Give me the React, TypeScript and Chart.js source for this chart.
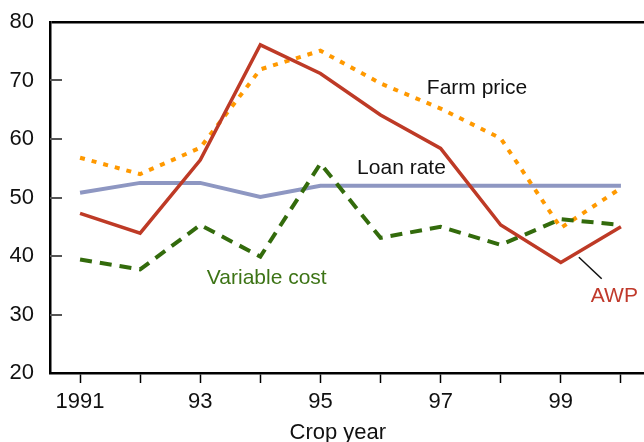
import React, { useEffect, useRef } from "react";
import { Chart, registerables } from "chart.js";

Chart.register(...registerables);

// ---- data ----
const years = [1991, 1992, 1993, 1994, 1995, 1996, 1997, 1998, 1999, 2000];
const farmPrice = [56.8, 54.0, 58.5, 71.9, 75.1, 69.5, 65.2, 60.1, 44.8, 51.6];
const loanRate = [50.8, 52.5, 52.5, 50.1, 52.0, 52.0, 52.0, 52.0, 52.0, 52.0];
const awp = [47.3, 43.9, 56.4, 76.1, 71.2, 64.1, 58.4, 45.3, 38.9, 45.0];
const variableCost = [39.4, 37.7, 45.3, 39.9, 55.8, 43.1, 45.0, 41.9, 46.3, 45.3];

const yTicks = [20, 30, 40, 50, 60, 70, 80];
const xTickLabel = (y: number) => (y === 1991 ? "1991" : y % 2 === 1 ? String(y).slice(2) : "");

// annotation anchors in data units
const labelFarm = { x: 1996.77, y: 68.7, text: "Farm price" };
const labelLoan = { x: 1995.61, y: 55.0, text: "Loan rate" };
const labelVar = { x: 1993.11, y: 36.2, text: "Variable cost" };
const labelAwp = { x: 1999.5, y: 33.2, text: "AWP" };
const awpLeader = [
  { x: 1999.3, y: 39.8 },
  { x: 1999.68, y: 36.1 },
];
const axisTitle = { x: 1995.29, text: "Crop year" };

const COLORS = {
  farm: "#FF9900",
  loan: "#8E97C2",
  awp: "#BE3A26",
  varc: "#336B0C",
};

const FONT = "'Liberation Sans', Arial, Helvetica, sans-serif";

const toXY = (vals: number[]) => years.map((yr, i) => ({ x: yr, y: vals[i] }));

const overlayPlugin = {
  id: "overlay",
  afterDraw(chart: any) {
    const ctx = chart.ctx;
    const xs = chart.scales.x;
    const ys = chart.scales.y;
    const left = chart.chartArea.left;
    ctx.save();
    // inward y tick marks
    ctx.strokeStyle = "#555555";
    ctx.lineWidth = 2;
    yTicks.forEach((v) => {
      if (v === 20 || v === 80) return;
      const py = Math.round(ys.getPixelForValue(v));
      ctx.beginPath();
      ctx.moveTo(left, py);
      ctx.lineTo(left + 12, py);
      ctx.stroke();
    });
    // text annotations
    ctx.font = `21px ${FONT}`;
    ctx.textBaseline = "middle";
    ctx.textAlign = "left";
    const put = (l: any, color: string) => {
      ctx.fillStyle = color;
      ctx.fillText(l.text, xs.getPixelForValue(l.x), ys.getPixelForValue(l.y));
    };
    put(labelFarm, "#111111");
    put(labelLoan, "#111111");
    put(labelVar, "#3D7416");
    put(labelAwp, "#C0392B");
    // leader line
    ctx.strokeStyle = "#111111";
    ctx.lineWidth = 1.5;
    ctx.beginPath();
    ctx.moveTo(xs.getPixelForValue(awpLeader[0].x), ys.getPixelForValue(awpLeader[0].y));
    ctx.lineTo(xs.getPixelForValue(awpLeader[1].x), ys.getPixelForValue(awpLeader[1].y));
    ctx.stroke();
    // x axis title
    ctx.font = `22px ${FONT}`;
    ctx.textAlign = "center";
    ctx.fillStyle = "#111111";
    ctx.fillText(axisTitle.text, xs.getPixelForValue(axisTitle.x), chart.height - 9);
    ctx.restore();
  },
};

export default function App() {
  const ref = useRef<HTMLCanvasElement | null>(null);
  useEffect(() => {
    if (!ref.current) return;
    const chart = new Chart(ref.current, {
      type: "line",
      data: {
        datasets: [
          {
            label: "AWP",
            data: toXY(awp),
            borderColor: COLORS.awp,
            borderWidth: 3.5,
            pointRadius: 0,
            order: 0,
          },
          {
            label: "Variable cost",
            data: toXY(variableCost),
            borderColor: COLORS.varc,
            borderWidth: 4,
            borderDash: [12, 8],
            pointRadius: 0,
            order: 1,
          },
          {
            label: "Farm price",
            data: toXY(farmPrice),
            borderColor: COLORS.farm,
            borderWidth: 4,
            borderDash: [5, 7],
            pointRadius: 0,
            order: 2,
          },
          {
            label: "Loan rate",
            data: toXY(loanRate),
            borderColor: COLORS.loan,
            borderWidth: 4,
            pointRadius: 0,
            order: 3,
          },
        ],
      },
      options: {
        animation: false,
        responsive: false,
        maintainAspectRatio: false,
        layout: { padding: { top: 22, right: 0, left: 0, bottom: 0 } },
        plugins: {
          legend: { display: false },
          tooltip: { enabled: false },
        },
        scales: {
          x: {
            type: "linear",
            min: 1990.5,
            max: 2000.384,
            afterFit: (s: any) => {
              s.height = 69;
              s.paddingLeft = 0;
              s.paddingRight = 0;
            },
            border: { display: true, color: "#000000", width: 2.5 },
            grid: {
              drawOnChartArea: false,
              drawTicks: true,
              tickLength: 10,
              tickColor: "#000000",
              tickWidth: 1.5,
            },
            ticks: {
              stepSize: 1,
              includeBounds: false,
              autoSkip: false,
              maxRotation: 0,
              padding: 6,
              color: "#111111",
              font: { family: FONT, size: 22 },
              callback: (v: any) => xTickLabel(Number(v)),
            },
          },
          y: {
            type: "linear",
            min: 20,
            max: 80,
            afterFit: (s: any) => {
              s.width = 50;
              s.paddingTop = 0;
              s.paddingBottom = 0;
            },
            border: { display: true, color: "#000000", width: 2.5 },
            grid: {
              drawTicks: false,
              color: (c: any) => (c.tick && c.tick.value === 80 ? "#000000" : "rgba(0,0,0,0)"),
              lineWidth: (c: any) => (c.tick && c.tick.value === 80 ? 2.5 : 0),
            },
            ticks: {
              stepSize: 10,
              padding: 16,
              color: "#111111",
              font: { family: FONT, size: 22 },
            },
          },
        },
      },
      plugins: [overlayPlugin],
    } as any);
    return () => chart.destroy();
  }, []);
  return (
    <div style={{ position: "absolute", left: 0, top: 0, width: 644, height: 442, background: "#ffffff" }}>
      <canvas ref={ref} width={644} height={442} style={{ width: 644, height: 442, display: "block" }} />
    </div>
  );
}
